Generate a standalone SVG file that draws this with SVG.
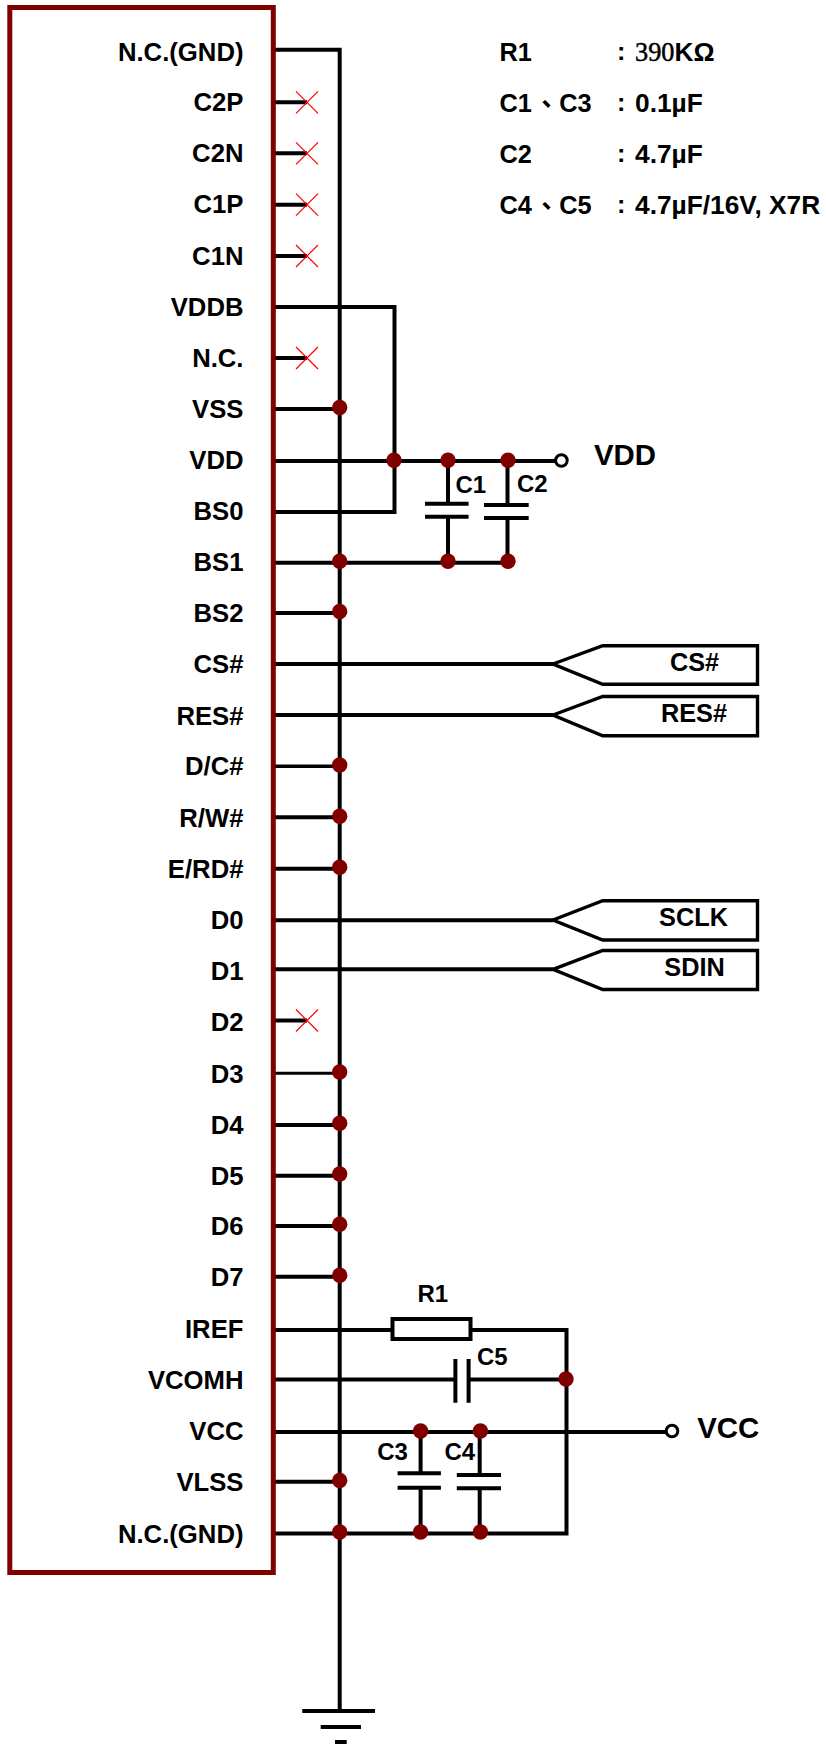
<svg xmlns="http://www.w3.org/2000/svg" width="826" height="1744" viewBox="0 0 826 1744">
<style>
text{font-family:"Liberation Sans",Arial,sans-serif;font-weight:700;font-size:25.3px;fill:#000}
.r{text-anchor:end;font-size:25.7px}
.c{text-anchor:middle}
.s{font-size:24px}
.b{font-size:29.4px}
.v{font-size:26.3px}
.cjk{font-family:"Noto Sans CJK TC",sans-serif;font-weight:700}
.sf{font-family:"Liberation Serif",serif;font-weight:400;stroke:#000;stroke-width:.5}
.w{fill:none;stroke:#000;stroke-width:4}
.t{stroke-width:3.4}
.x{fill:none;stroke:#f00;stroke-width:1.2}
.d{fill:#800000}
.o{fill:#fff;stroke:#000;stroke-width:3}
</style>
<defs>
<circle id="dot" class="d" r="7.7"/>
<path id="nc" class="x" d="M-11-11L11 11M-11 11L11-11"/>
</defs>
<rect width="826" height="1744" fill="#fff"/>
<g id="connectors">
<path class="w" d="M272 49.7H339.7V1711"/>
<path class="w" d="M272 102.3H307M272 153.3H307M272 204.7H307M272 256H307M272 358H307M272 1020.5H307"/>
<path class="w" d="M272 307H394.5V512H272"/>
<path class="w" d="M272 409H339M272 613H339M272 817.3H339M272 868.7H339M272 1125H339M272 1175.7H339M272 1226H339M272 1276.7H339M272 1481.7H339"/>
<path class="w t" d="M272 766.3H339"/>
<path class="w" style="stroke-width:3" d="M272 1073.3H339"/>
<path class="w" d="M272 461H556M272 562.7H507.5"/>
<path class="w" d="M448 461V503.7M448 516.7V562M507.5 461V505M507.5 518V562"/>
<path class="w" d="M272 664H553M272 715H553M272 920.3H553M272 969.3H553"/>
<path class="w" d="M272 1330H392M471 1330H566.5V1533.5H272"/>
<path class="w" d="M272 1379.5H455.4M468.6 1379.5H566"/>
<path class="w" d="M272 1432H666"/>
<path class="w" d="M420.6 1432V1473.3M420.6 1487.7V1533M479.7 1432V1475M479.7 1488.3V1533"/>
</g>
<g id="ic">
<rect x="9.8" y="7.5" width="263.5" height="1565" fill="none" stroke="#800000" stroke-width="5"/>
<text class="r" x="243.5" y="60.7">N.C.(GND)</text>
<text class="r" x="243.5" y="110.7">C2P</text>
<text class="r" x="243.5" y="161.8">C2N</text>
<text class="r" x="243.5" y="213">C1P</text>
<text class="r" x="243.5" y="264.5">C1N</text>
<text class="r" x="243.5" y="315.5">VDDB</text>
<text class="r" x="243.5" y="366.5">N.C.</text>
<text class="r" x="243.5" y="418.4">VSS</text>
<text class="r" x="243.5" y="469.4">VDD</text>
<text class="r" x="243.5" y="520.4">BS0</text>
<text class="r" x="243.5" y="571.4">BS1</text>
<text class="r" x="243.5" y="622.4">BS2</text>
<text class="r" x="243.5" y="673.4">CS#</text>
<text class="r" x="243.5" y="725">RES#</text>
<text class="r" x="243.5" y="775.4">D/C#</text>
<text class="r" x="243.5" y="827">R/W#</text>
<text class="r" x="243.5" y="878">E/RD#</text>
<text class="r" x="243.5" y="929">D0</text>
<text class="r" x="243.5" y="979.6">D1</text>
<text class="r" x="243.5" y="1031.4">D2</text>
<text class="r" x="243.5" y="1082.7">D3</text>
<text class="r" x="243.5" y="1134.3">D4</text>
<text class="r" x="243.5" y="1184.5">D5</text>
<text class="r" x="243.5" y="1235">D6</text>
<text class="r" x="243.5" y="1286.2">D7</text>
<text class="r" x="243.5" y="1338">IREF</text>
<text class="r" x="243.5" y="1389">VCOMH</text>
<text class="r" x="243.5" y="1440.2">VCC</text>
<text class="r" x="243.5" y="1491.4">VLSS</text>
<text class="r" x="243.5" y="1543">N.C.(GND)</text>
</g>
<g id="no-connects">
<use href="#nc" x="307" y="102.3"/>
<use href="#nc" x="307" y="153.3"/>
<use href="#nc" x="307" y="204.7"/>
<use href="#nc" x="307" y="256"/>
<use href="#nc" x="307" y="358"/>
<use href="#nc" x="307" y="1020.5"/>
</g>
<g id="junctions">
<use href="#dot" x="339.7" y="407.5"/>
<use href="#dot" x="394" y="460.3"/>
<use href="#dot" x="448" y="460.3"/>
<use href="#dot" x="508" y="460.3"/>
<use href="#dot" x="339.7" y="561.3"/>
<use href="#dot" x="448" y="561.3"/>
<use href="#dot" x="508" y="561.3"/>
<use href="#dot" x="339.7" y="611.5"/>
<use href="#dot" x="339.7" y="765"/>
<use href="#dot" x="339.7" y="816.3"/>
<use href="#dot" x="339.7" y="867.3"/>
<use href="#dot" x="339.7" y="1072"/>
<use href="#dot" x="339.7" y="1123.3"/>
<use href="#dot" x="339.7" y="1174"/>
<use href="#dot" x="339.7" y="1224.3"/>
<use href="#dot" x="339.7" y="1275.3"/>
<use href="#dot" x="566" y="1379"/>
<use href="#dot" x="420.6" y="1431"/>
<use href="#dot" x="480.4" y="1431"/>
<use href="#dot" x="339.7" y="1480.5"/>
<use href="#dot" x="339.7" y="1532"/>
<use href="#dot" x="420.6" y="1532"/>
<use href="#dot" x="480.4" y="1532"/>
</g>
<g id="vdd">
<circle class="o" cx="561.4" cy="460.5" r="5.8"/>
<text class="b" x="594" y="465">VDD</text>
</g>
<g id="c1">
<path class="w" d="M425 503.7H468.6M425 516.7H468.6"/>
<text class="s" x="455.4" y="493">C1</text>
</g>
<g id="c2">
<path class="w" d="M484 505H528.7M484 518H528.7"/>
<text class="s" x="517" y="491.7">C2</text>
</g>
<g id="sig-cs">
<path class="w t" d="M553 664L602.7 645.7H757.5V684.3H602.7Z"/>
<text class="c" x="694.5" y="670.5">CS#</text>
</g>
<g id="sig-res">
<path class="w t" d="M553 715L602.7 696.5H757.5V735.7H602.7Z"/>
<text class="c" x="694" y="722">RES#</text>
</g>
<g id="sig-sclk">
<path class="w t" d="M553 920L602.7 900.7H757.5V940H602.7Z"/>
<text class="c" x="693.5" y="926">SCLK</text>
</g>
<g id="sig-sdin">
<path class="w t" d="M553 969.3L602.7 950.5H757.5V989.5H602.7Z"/>
<text class="c" x="694.5" y="976.3">SDIN</text>
</g>
<g id="r1">
<rect class="w" x="392.5" y="1319" width="78" height="20" style="fill:#fff"/>
<text class="s" x="417.5" y="1302">R1</text>
</g>
<g id="c5">
<path class="w" d="M455.4 1359V1402.7M468.6 1359V1402.7"/>
<text class="s" x="477" y="1365">C5</text>
</g>
<g id="c3">
<path class="w" d="M397.6 1473.3H440.9M397.6 1487.7H440.9"/>
<text class="s" x="377.2" y="1460">C3</text>
</g>
<g id="c4">
<path class="w" d="M456.8 1475H501M456.8 1488.3H501"/>
<text class="s" x="444.5" y="1460">C4</text>
</g>
<g id="vcc">
<circle class="o" cx="672" cy="1431" r="5.8"/>
<text class="b" x="697.2" y="1437.7">VCC</text>
</g>
<g id="ground">
<path class="w" d="M302.3 1711H375M320.7 1727H361"/>
<rect x="335" y="1740" width="11.7" height="4" fill="#000"/>
</g>
<g id="legend">
<text x="499.5" y="60.7">R1</text>
<text x="617" y="60">:</text>
<text class="v" x="635" y="61"><tspan class="sf">390</tspan>KΩ</text>
<text x="499.5" y="111.7">C1<tspan class="cjk" dy="1" dx="2">、</tspan><tspan dy="-1">C3</tspan></text>
<text x="617" y="111">:</text>
<text class="v" x="635" y="111.5">0.1µF</text>
<text x="499.5" y="162.7">C2</text>
<text x="617" y="162">:</text>
<text class="v" x="635" y="162.5">4.7µF</text>
<text x="499.5" y="213.7">C4<tspan class="cjk" dy="1" dx="2">、</tspan><tspan dy="-1">C5</tspan></text>
<text x="617" y="213">:</text>
<text class="v" x="635" y="213.5">4.7µF/16V, X7R</text>
</g>
</svg>
